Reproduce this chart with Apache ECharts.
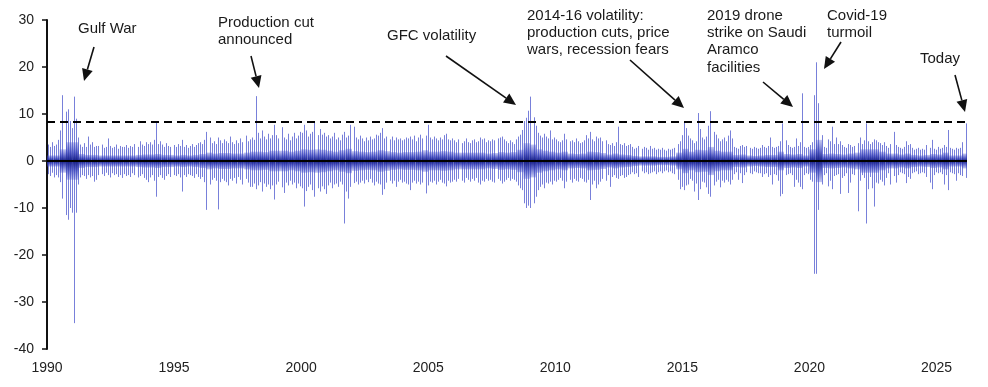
<!DOCTYPE html>
<html><head><meta charset="utf-8">
<script src="https://cdn.jsdelivr.net/npm/echarts@6/dist/echarts.min.js"></script>
<style>html,body{margin:0;padding:0;background:#fff}#c{width:988px;height:387px}</style>
</head><body><div id="c"></div>
<script>
// ---- DATA (daily % change in oil price, monthly extremes) ----
const startYear = 1990;
const xTicks = [1990, 1995, 2000, 2005, 2010, 2015, 2020, 2025];
const yTicks = [-40, -30, -20, -10, 0, 10, 20, 30];
const threshold = 8.4;

const high1990s = [
  3.5, 3, 4, 3.2, 3.5, 4.5, 6.5, 14, 10.5, 11, 8.5, 7,
  13.7, 9, 5, 3.5, 3, 3.8, 3, 5.2, 3.5, 4, 3, 3.2,
  3.2, 3.5, 2.8, 3, 4.8, 3.2, 2.8, 3, 3.5, 2.6, 3.2, 3,
  3, 3.4, 2.8, 3.2, 3, 3.6, 3, 4.2, 3.5, 3.2, 4, 3.6,
  4, 3.5, 4.5, 8.4, 3.6, 4.2, 3.5, 3, 3.8, 3.2, 3, 3.4,
  3, 3.6, 3.2, 4.5, 3, 3.4, 2.8, 3.2, 3.6, 3, 3.4, 3.8,
  4, 3.6, 4.5, 6.2, 5, 3.8, 4.2, 3.6, 5, 4.4, 3.8, 4.6,
  4.2, 3.8, 5.2, 4, 3.6, 4.4, 3.8, 4.8, 4, 5.4, 4.2, 4.6,
  5, 4.5, 13.8, 6, 4.8, 6.5, 5.2, 4.6, 5.8, 4.8, 5.5, 7.7,
  5.5, 4.8, 7.2, 5, 4.6, 5.8, 4.4, 5.2, 6, 4.8, 5.4, 6.2
];
const low1990s = [
  -2.8, -3.2, -2.5, -3.5, -3, -3.5, -4.5, -8, -11.5, -12.5, -10, -11,
  -34.5, -11, -5, -3.5, -3, -3.2, -3.8, -3, -3.5, -3.2, -4.4, -4,
  -3, -2.8, -3.2, -2.5, -3, -3.5, -2.6, -3, -2.8, -3.4, -3, -3.6,
  -2.8, -3.2, -3, -3.4, -2.6, -3, -3.5, -3.2, -2.8, -3.6, -4, -4.5,
  -3.5, -3, -4.2, -7.6, -3.4, -3, -3.6, -4, -3.2, -2.8, -3.4, -3,
  -3.2, -2.8, -3.5, -6.5, -3, -3.4, -2.8, -3, -3.2, -3.6, -2.8, -3.4,
  -3.8, -3.4, -4.5, -10.4, -5, -4, -3.6, -4.2, -10.3, -4.5, -3.8, -4.2,
  -4.5, -5.2, -3.8, -4.2, -3.6, -4.8, -3.4, -4, -5, -3.8, -4.6, -5.5,
  -5.5, -4.8, -6, -5.2, -4.5, -6.5, -4.8, -5.5, -5, -6, -5.2, -8.2,
  -5, -4.4, -5.6, -6.8, -4.6, -5.2, -4.2, -5, -4.6, -5.8, -4.8, -5.4
];
const high2000s = [
  6, 7.7, 6.5, 5.2, 5.8, 6.2, 8.4, 5.5, 6.8, 5.6, 6, 5.2,
  5.5, 4.8, 5.2, 6, 4.6, 5, 4.4, 5.6, 6.2, 5, 5.4, 7.7,
  7.3, 5, 4.6, 5.4, 4.8, 4.2, 5, 4.4, 5.2, 4.6, 4.8, 5.6,
  5.4, 6, 7, 4.8, 5.2, 4.6, 5.2, 4.4, 5, 4.6, 4.8, 4.4,
  4.6, 5, 4.8, 5.2, 4.6, 5.4, 4.2, 5, 5.6, 4.8, 5.4, 7.7,
  5, 4.6, 5.2, 4.8, 4.4, 5, 4.6, 5.5, 5.8, 4.6, 4.4, 4.8,
  4.4, 4, 4.6, 3.8, 4.2, 4.8, 4, 3.8, 4.4, 4.6, 4, 4.2,
  5, 4.6, 4.8, 4, 4.4, 4.2, 4.6, 4.4, 4.8, 5, 5.2, 4.6,
  4.2, 3.8, 4.4, 4, 3.6, 4.6, 5.2, 5.6, 6.6, 8.5, 9.2, 10.7,
  13.7, 9.3, 7.5, 6, 5.4, 5, 5.8, 5.2, 4.8, 6.5, 4.6, 5
];
const low2000s = [
  -5.8, -9.7, -6.4, -5.5, -5, -6.2, -7.6, -5.8, -6.5, -5.4, -6, -7,
  -5.2, -4.6, -5.8, -5, -4.8, -5.5, -4.4, -5, -13.3, -6.5, -8, -5.5,
  -4.7, -4.4, -5, -4.6, -4.2, -4.8, -4, -4.5, -3.8, -4.6, -5.2, -4.4,
  -4.8, -5, -7.2, -6, -4.6, -4.2, -4.8, -4.2, -5.5, -4.4, -4, -4.6,
  -4.4, -4.8, -5, -6.2, -4.6, -4.2, -4.8, -4.4, -5, -4.6, -6.9, -5.2,
  -4.4, -4.6, -4.2, -5, -4.4, -4, -4.6, -4.8, -5.4, -4.2, -4.6, -4.4,
  -4, -4.4, -3.8, -4.2, -4.6, -3.6, -4, -4.4, -3.8, -4.2, -3.6, -4.6,
  -5, -4.2, -4.4, -3.8, -4.2, -4, -4.4, -4.6, -3.8, -4.2, -4.8, -4.4,
  -4, -3.6, -4.2, -3.8, -4, -4.4, -5.2, -5.8, -6.2, -9, -10, -9.5,
  -10, -9, -7.6, -6.2, -5.5, -5, -5.8, -4.6, -4.8, -4.4, -5, -4.2
];
const high2010s = [
  4.6, 4.2, 4, 4.4, 5.8, 4.6, 4.2, 4.4, 4, 4.8, 4.2, 3.8,
  4, 4.4, 5.5, 4.8, 6.2, 4.6, 4.2, 5.2, 4.8, 5, 4.2, 4.4,
  3.6, 3.4, 3.8, 3.2, 4, 7.3, 3.6, 3.4, 3.8, 3.2, 3.4, 3.6,
  3, 2.6, 2.8, 3.2, 2.6, 3, 2.8, 2.4, 3.2, 2.6, 2.8, 2.4,
  2.6, 2.4, 2.8, 2.4, 2.2, 2.6, 2.4, 2.6, 2.8, 3.6, 4.2, 5.5,
  8.1, 7, 5.4, 4.8, 4.4, 3.8, 4.2, 10.2, 6.8, 5, 4.6, 5.2,
  7.5, 10.6, 6.2, 5.6, 4.8, 4.2, 4.6, 5, 4.2, 5.4, 6.5, 4.8,
  3, 2.8, 2.6, 3.2, 3.4, 3, 3.2, 2.8, 2.6, 3, 2.8, 2.6,
  2.8, 3.4, 3, 2.8, 3.2, 5, 3, 2.8, 3, 3.2, 4.2, 8,
  4.4, 3.4, 3, 2.8, 3, 4.8, 3.2, 4, 14.4, 3, 2.8, 3
];
const low2010s = [
  -4.4, -4, -3.6, -4.2, -5.8, -4.4, -4, -4.6, -3.8, -4.2, -4.4, -3.6,
  -3.8, -4.4, -4.6, -4, -8.3, -5, -4.2, -5.8, -5, -4.4, -3.8, -4.2,
  -3, -5.5, -3.4, -3, -3.6, -3.8, -3.2, -3, -3.6, -3.4, -3, -2.8,
  -2.4, -2.8, -2.6, -3.4, -2.2, -2.6, -2.4, -2.8, -2.6, -2.4, -2.2, -2.8,
  -2.4, -2.2, -2.6, -2.2, -2, -2.4, -2.2, -2.6, -2.8, -4, -6, -5.5,
  -6.2, -5.2, -5, -3.8, -4.2, -6.5, -4.8, -8.3, -6, -4.4, -4.6, -5.6,
  -7, -7.6, -5.2, -4.4, -4, -5.6, -4.2, -4.6, -4, -4.4, -5, -4,
  -2.8, -2.4, -4, -2.6, -4.7, -3, -2.4, -2.6, -2.8, -2.2, -2.4, -2.6,
  -2.6, -3.4, -2.8, -2.6, -3.4, -3, -5, -2.8, -3, -4.2, -7.5, -7,
  -3, -2.8, -2.6, -3, -5.5, -4, -4.6, -5.5, -6, -3, -2.6, -2.8
];
const high2020s = [
  3.4, 4, 14, 21, 12.3, 5.5, 3, 2.8, 4.6, 4.2, 7.3, 3.6,
  5, 3.6, 4.2, 3.4, 3, 2.8, 3.6, 3.4, 3, 3.2, 3.8, 5,
  3.6, 4.4, 8, 4.2, 3.6, 4, 4.6, 4.4, 4, 3.8, 3.4, 4,
  3.2, 2.8, 3.6, 6.2, 3.4, 3, 2.8, 2.6, 3, 4.2, 3.4, 3.6,
  2.8, 2.4, 2.6, 2.8, 2.4, 2.6, 2.4, 3.4, 2.8, 4.5, 2.6, 2.4,
  3, 2.6, 2.8, 3.4, 3, 6.6, 2.8, 2.6, 2.4, 2.8, 2.6, 2.8,
  4, 8
];
const low2020s = [
  -4, -4.4, -24, -24, -10.4, -5, -3, -2.6, -5.4, -4.2, -6, -3.2,
  -3, -2.8, -7, -3.6, -3.2, -2.6, -6.8, -4.6, -2.8, -3, -10.7, -4.2,
  -3, -3.6, -13.3, -6, -3.4, -5.8, -9.7, -4.6, -4.8, -4, -4.4, -5.2,
  -3.6, -2.6, -5, -3.2, -4.6, -3, -2.4, -2.6, -2.8, -4.7, -3.4, -3.8,
  -2.6, -2.4, -2.2, -2.8, -2.6, -2.4, -2.6, -3.4, -4.6, -6, -3, -2.4,
  -2.6, -2.4, -2.8, -5, -3, -6.2, -2.4, -2.6, -2.8, -4.2, -2.6, -3,
  -3.2, -3.6
];
// typical (dense) daily range per quarter
const core1990s = [1.2,1.2,2.5,4, 4,1.5,1.3,1.3, 1.2,1.2,1.2,1.2, 1.2,1.2,1.3,1.4, 1.4,1.5,1.3,1.3,
                   1.2,1.3,1.2,1.3, 1.5,1.8,1.6,1.7, 1.7,1.6,1.6,1.8, 2,2,1.9,2.2, 2.2,2.2,2,2.2];
const core2000s = [2.5,2.4,2.5,2.4, 2.2,2,2.3,2.6, 2.1,2,1.9,2, 2.3,2.1,1.9,1.8, 1.9,1.9,2,2.3,
                   2,2,2.1,2, 1.8,1.8,1.8,1.8, 1.8,1.6,1.7,1.9, 1.8,1.9,2.4,3.8, 3.5,2.5,2.2,2];
const core2010s = [1.8,2,1.6,1.5, 1.6,2,1.9,1.7, 1.4,1.6,1.4,1.3, 1.1,1,1,1, 0.9,0.9,1,1.8,
                   2.6,2,2.4,2.3, 3,2.2,2,2, 1.3,1.4,1.2,1.1, 1.2,1.3,1.3,2, 1.5,1.4,1.5,1.2];
const core2020s = [2.5,4.5,1.5,1.6, 1.5,1.4,1.6,1.8, 2.5,2.5,2.5,2, 1.6,1.6,1.4,1.6, 1.3,1.2,1.3,1.5,
                   1.4,1.8,1.2,1.2, 1.6];

const annotations = [
  {lines:['Gulf War'], x:78, y:29, from:[94,47], to:[84,81]},
  {lines:['Production cut','announced'], x:218, y:22.5, from:[251,56], to:[259,88]},
  {lines:['GFC volatility'], x:387, y:35.5, from:[446,56], to:[516,105]},
  {lines:['2014-16 volatility:','production cuts, price','wars, recession fears'], x:527, y:15.5, from:[630,60], to:[684,108]},
  {lines:['2019 drone','strike on Saudi','Aramco','facilities'], x:707, y:15.5, from:[763,82], to:[793,107]},
  {lines:['Covid-19','turmoil'], x:827, y:15.5, from:[841,42], to:[824,69]},
  {lines:['Today'], x:920, y:59, from:[955,75], to:[965,112]}
];

// ---- BUILD ----
const highs = high1990s.concat(high2000s, high2010s, high2020s);
const lows = low1990s.concat(low2000s, low2010s, low2020s);
const cores = core1990s.concat(core2000s, core2010s, core2020s);
const monthData = highs.map((h, i) => [startYear + (i + 0.5) / 12, h, lows[i]]);
const coreData = cores.map((c, i) => [startYear + (i + 0.5) / 4, c]);

const chart = echarts.init(document.getElementById('c'), null, {renderer: 'canvas'});
const FONT = '"Liberation Sans", Arial, sans-serif';

function arrow(from, to) {
  const dx = to[0] - from[0], dy = to[1] - from[1];
  const len = Math.sqrt(dx * dx + dy * dy);
  const ux = dx / len, uy = dy / len;
  const hl = 12, hw = 5.5;
  const bx = to[0] - ux * hl, by = to[1] - uy * hl;
  return [
    {type:'line', shape:{x1:from[0], y1:from[1], x2:bx, y2:by}, style:{stroke:'#111', lineWidth:1.6}, z:100},
    {type:'polygon', shape:{points:[[to[0],to[1]],[bx - uy*hw, by + ux*hw],[bx + uy*hw, by - ux*hw]]}, style:{fill:'#111'}, z:100}
  ];
}
const graphics = [];
annotations.forEach(a => {
  a.lines.forEach((t, k) => {
    graphics.push({type:'text', x:a.x, y:a.y + k*17.4, z:100,
      style:{text:t, font:'15px ' + FONT, fill:'#1a1a1a', textVerticalAlign:'middle', textAlign:'left'}});
  });
  arrow(a.from, a.to).forEach(g => graphics.push(g));
});

const SPIKE = '#7880da';
const coreFill = {
  type: 'linear', x: 0, y: 0, x2: 0, y2: 1,
  colorStops: [
    {offset: 0, color: 'rgba(70,80,205,0.3)'},
    {offset: 0.28, color: 'rgba(45,55,180,0.75)'},
    {offset: 0.5, color: 'rgba(20,28,130,1)'},
    {offset: 0.72, color: 'rgba(45,55,180,0.75)'},
    {offset: 1, color: 'rgba(70,80,205,0.3)'}
  ]
};

const option = {
  animation: false,
  backgroundColor: '#fff',
  grid: {left: 47, right: 21, top: 20, bottom: 38},
  xAxis: {
    type: 'value', min: xTicks[0], max: 2026.2, interval: 5,
    axisLine: {show: false}, axisTick: {show: false}, splitLine: {show: false},
    axisLabel: {fontFamily: FONT, fontSize: 14, color: '#222', margin: 12,
      formatter: v => xTicks.includes(v) ? String(v) : ''}
  },
  yAxis: {
    type: 'value', min: yTicks[0], max: yTicks[yTicks.length-1], interval: 10,
    axisLine: {show: true, lineStyle: {color: '#111', width: 2}},
    axisTick: {show: true, length: 5, lineStyle: {color: '#111', width: 1.5}},
    splitLine: {show: false},
    axisLabel: {fontFamily: FONT, fontSize: 14, color: '#222', margin: 13}
  },
  series: [
    {
      type: 'custom', clip: true, z: 2,
      data: monthData,
      encode: {x: 0, y: [1, 2]},
      renderItem: (params, api) => {
        const t = api.value(0);
        const pHi = api.coord([t, api.value(1)]), pLo = api.coord([t, api.value(2)]);
        const x = 2 * Math.round(pHi[0] / 2) + 0.5;
        return {type: 'line', shape: {x1: x, y1: pLo[1], x2: x, y2: pHi[1]},
          style: {stroke: SPIKE, lineWidth: 1, fill: null}};
      },
      markLine: {
        silent: true, symbol: 'none', animation: false, label: {show: false},
        data: [
          {yAxis: 0, lineStyle: {color: '#000', width: 2, type: 'solid'}},
          {yAxis: threshold, lineStyle: {color: '#000', width: 2, type: [8, 5]}}
        ],
        z: 10
      }
    },
    {
      type: 'custom', clip: true, z: 3,
      data: coreData,
      encode: {x: 0, y: 1},
      renderItem: (params, api) => {
        const t = api.value(0), c = api.value(1);
        const p1 = api.coord([t - 0.125, c]), p2 = api.coord([t + 0.125, -c]);
        return {type: 'rect', shape: {x: p1[0], y: p1[1], width: p2[0] - p1[0], height: p2[1] - p1[1]},
          style: {fill: coreFill}};
      }
    }
  ],
  graphic: graphics
};
chart.setOption(option);
</script>
</body></html>
